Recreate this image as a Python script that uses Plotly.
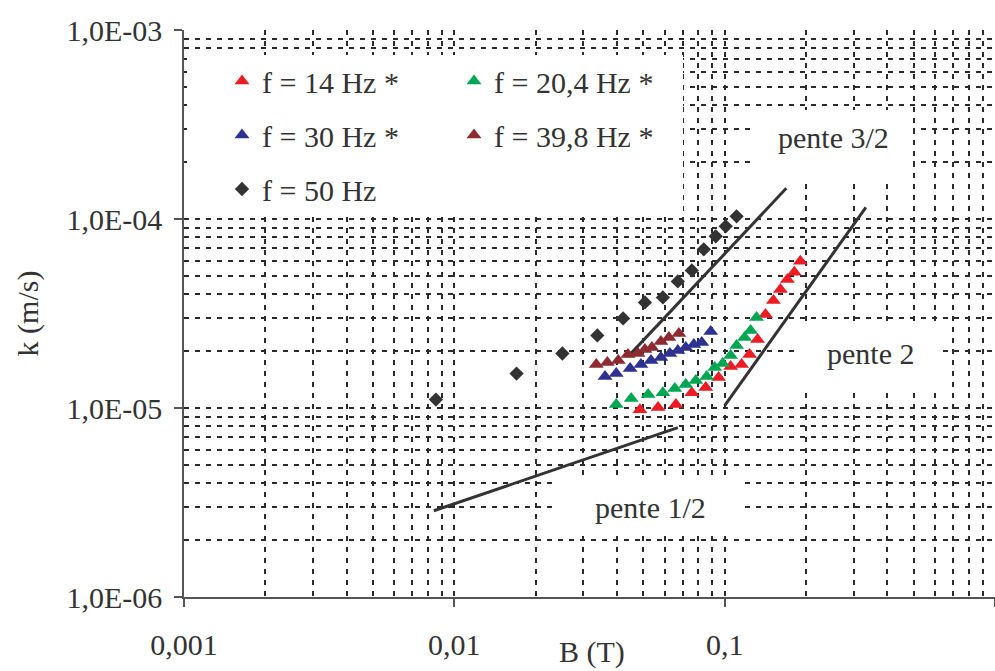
import plotly.graph_objects as go

# ---------------- data ----------------
B_14 = [0.0486, 0.0567, 0.0660, 0.0756, 0.0851, 0.0950, 0.1052, 0.1155,
        0.1237, 0.1323, 0.1416, 0.1515, 0.1608, 0.1706, 0.1810, 0.1905]
k_14 = [9.80e-6, 1.005e-5, 1.042e-5, 1.206e-5, 1.282e-5, 1.449e-5, 1.657e-5, 1.698e-5,
        1.919e-5, 2.304e-5, 3.126e-5, 3.709e-5, 4.240e-5, 4.79e-5, 5.22e-5, 5.97e-5]

B_20 = [0.0397, 0.0451, 0.0521, 0.0591, 0.0654, 0.0718, 0.0782, 0.0858,
        0.0919, 0.0983, 0.1052, 0.1107, 0.1185, 0.1247, 0.1312]
k_20 = [1.042e-5, 1.121e-5, 1.177e-5, 1.206e-5, 1.267e-5, 1.330e-5, 1.397e-5, 1.466e-5,
        1.637e-5, 1.719e-5, 1.895e-5, 2.141e-5, 2.361e-5, 2.571e-5, 3.013e-5]

B_30 = [0.0361, 0.0397, 0.0447, 0.0490, 0.0534, 0.0581, 0.0627, 0.0671,
        0.0718, 0.0769, 0.0823, 0.0888]
k_30 = [1.466e-5, 1.521e-5, 1.617e-5, 1.698e-5, 1.783e-5, 1.850e-5, 1.942e-5, 2.014e-5,
        2.089e-5, 2.168e-5, 2.221e-5, 2.540e-5]

B_40 = [0.0335, 0.0368, 0.0404, 0.0439, 0.0478, 0.0507, 0.0538, 0.0581, 0.0622, 0.0677]
k_40 = [1.698e-5, 1.740e-5, 1.783e-5, 1.919e-5, 1.942e-5, 2.039e-5, 2.089e-5, 2.248e-5,
        2.361e-5, 2.479e-5]

B_50 = [0.00855, 0.01699, 0.0251, 0.0338, 0.0421, 0.0507, 0.0591, 0.0671,
        0.0756, 0.0837, 0.0927, 0.1009, 0.1107]
k_50 = [1.108e-5, 1.521e-5, 1.942e-5, 2.420e-5, 2.978e-5, 3.620e-5, 3.846e-5, 4.676e-5,
        5.346e-5, 6.908e-5, 8.10e-5, 9.15e-5, 1.033e-4]

# slope guide lines
B_pente_12 = [0.0084, 0.0671]
k_pente_12 = [2.86e-6, 7.87e-6]
B_pente_32 = [0.0439, 0.169]
k_pente_32 = [1.87e-5, 1.454e-4]
B_pente_2 = [0.100, 0.333]
k_pente_2 = [1.03e-5, 1.153e-4]

x_tickvals = [0.001, 0.01, 0.1, 1]
x_ticktext = ["0,001", "0,01", "0,1", "1"]
y_tickvals = [1e-6, 1e-5, 1e-4, 1e-3]
y_ticktext = ["1,0E-06", "1,0E-05", "1,0E-04", "1,0E-03"]

series_names = ["f = 14 Hz *", "f = 20,4 Hz *", "f = 30 Hz *", "f = 39,8 Hz *", "f = 50 Hz"]
label_pente = ["pente 3/2", "pente 2", "pente 1/2"]
x_title = "B (T)"
y_title = "k (m/s)"

# ---------------- layout helpers ----------------
W, H = 995, 671
L, T, R, BM = 184, 30, 0, 74
PW, PH = W - L - R, H - T - BM


def xp(px):
    return (px - L) / PW


def yp(py):
    return 1 - (py - T) / PH


FONT = "Liberation Serif, Times New Roman, serif"
FS = 30
TXT = "#333333"
GRID = "#2b2b2b"

RED = "#ED1C24"
GREEN = "#00A651"
BLUE = "#2E3192"
BROWN = "#8E2A30"
DARK = "#333333"

fig = go.Figure()

line_style = dict(color=DARK, width=3)
for bx, ky in [(B_pente_12, k_pente_12), (B_pente_32, k_pente_32), (B_pente_2, k_pente_2)]:
    fig.add_trace(go.Scatter(x=bx, y=ky, mode="lines", line=line_style,
                             showlegend=False, hoverinfo="skip"))

tri = dict(symbol="triangle-up", size=13, line=dict(width=0))
fig.add_trace(go.Scatter(x=B_14, y=k_14, mode="markers", name=series_names[0],
                         marker=dict(tri, color=RED), legend="legend", legendgroup="a"))
fig.add_trace(go.Scatter(x=B_20, y=k_20, mode="markers", name=series_names[1],
                         marker=dict(tri, color=GREEN), legend="legend2", legendgroup="b"))
fig.add_trace(go.Scatter(x=B_30, y=k_30, mode="markers", name=series_names[2],
                         marker=dict(tri, color=BLUE), legend="legend", legendgroup="c"))
fig.add_trace(go.Scatter(x=B_40, y=k_40, mode="markers", name=series_names[3],
                         marker=dict(tri, color=BROWN), legend="legend2", legendgroup="d"))
fig.add_trace(go.Scatter(x=B_50, y=k_50, mode="markers", name=series_names[4],
                         marker=dict(symbol="diamond", size=11, color=DARK, line=dict(width=0)),
                         legend="legend", legendgroup="e"))

grid_common = dict(gridcolor=GRID, gridwidth=2, griddash="5px,6px")
minor_common = dict(dtick="D1", showgrid=True, gridcolor=GRID, gridwidth=2,
                    griddash="5px,6px", ticks="")

fig.update_xaxes(
    type="log", range=[-3, 0],
    tickvals=x_tickvals, ticktext=x_ticktext,
    showgrid=True, **grid_common, minor=minor_common,
    showline=True, linecolor="#555555", linewidth=1.5,
    ticks="outside", ticklen=8, tickcolor="#555555", tickwidth=1.5,
    ticklabelstandoff=12,
    zeroline=False,
    tickfont=dict(family=FONT, size=FS, color=TXT),
)
fig.update_yaxes(
    type="log", range=[-6, -3],
    tickvals=y_tickvals, ticktext=y_ticktext,
    showgrid=True, **grid_common, minor=minor_common,
    showline=True, linecolor="#555555", linewidth=1.5,
    ticks="outside", ticklen=8, tickcolor="#555555", tickwidth=1.5,
    ticklabelstandoff=6,
    zeroline=False,
    title=dict(text=y_title, standoff=19, font=dict(family=FONT, size=FS, color=TXT)),
    tickfont=dict(family=FONT, size=FS, color=TXT),
)

# white boxes behind legend and labels (cover the grid; no data falls inside them)
boxes = [(187, 55, 683, 212), (750, 110, 913, 182), (797, 322, 943, 388), (557, 476, 740, 535)]
shapes = []
for x0, y0, x1, y1 in boxes:
    shapes.append(dict(type="rect", xref="paper", yref="paper",
                       x0=xp(x0), x1=xp(x1), y0=yp(y1), y1=yp(y0),
                       fillcolor="white", line=dict(width=0), layer="above"))

annots = []
for txt, (cx, cy) in zip(label_pente, [(833, 137), (870, 353), (650, 507)]):
    annots.append(dict(text=txt, xref="paper", yref="paper", x=xp(cx), y=yp(cy),
                       xanchor="center", yanchor="middle", showarrow=False,
                       font=dict(family=FONT, size=FS, color=TXT)))
annots.append(dict(text=x_title, xref="paper", yref="paper", x=xp(592), y=yp(652),
                   xanchor="center", yanchor="middle", showarrow=False,
                   font=dict(family=FONT, size=FS, color=TXT)))

legend_common = dict(bgcolor="rgba(0,0,0,0)", borderwidth=0,
                     font=dict(family=FONT, size=FS, color=TXT),
                     orientation="v", xanchor="left", yanchor="top",
                     tracegroupgap=12, itemsizing="trace")

fig.update_layout(
    width=W, height=H,
    margin=dict(l=L, r=R, t=T, b=BM),
    paper_bgcolor="white", plot_bgcolor="white",
    shapes=shapes, annotations=annots,
    legend=dict(legend_common, x=xp(222), y=yp(55)),
    legend2=dict(legend_common, x=xp(454), y=yp(55)),
    font=dict(family=FONT, color=TXT),
)

fig.write_html("out.html", config={"displayModeBar": False},
               post_script="document.body.style.margin='0px';")
